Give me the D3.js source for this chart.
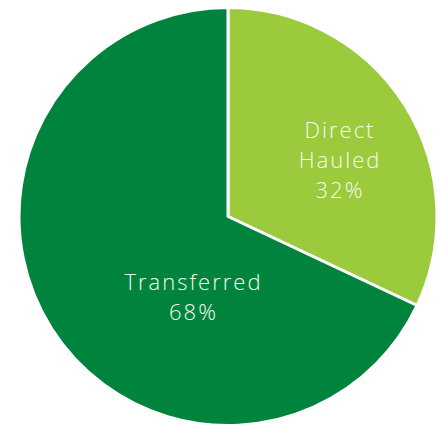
<!DOCTYPE html>
<html>
<head>
<meta charset="utf-8">
<script src="https://cdn.jsdelivr.net/npm/d3@7"></script>
<style>
  body { margin: 0; background: #fff; }
  text { font-family: "Open Sans", "Liberation Sans", sans-serif; font-weight: 300; }
</style>
</head>
<body>
<div id="container"></div>
<script>
/* DATA */
const categories = ["Direct Hauled", "Transferred"];
const shares = [32, 68];
const labelLines = [["Direct", "Hauled", "32%"], ["Transferred", "68%"]];

/* CONSTANTS */
const width = 438;
const height = 427;
const cx = 228, cy = 216.5, radius = 209;
// label block centres, relative to the pie centre (placed like the original)
const labelPos = [[112, -56], [-34.5, 80.5]];
const lineHeight = 30;

const color = d3.scaleOrdinal()
  .domain(categories)
  .range(["#9bca3c", "#00843d"]);

const data = categories.map((c, i) => ({ name: c, value: shares[i], lines: labelLines[i] }));

const pie = d3.pie().sort(null).value(d => d.value);
const arc = d3.arc().innerRadius(0).outerRadius(radius);

const svg = d3.select("#container")
  .append("svg")
  .attr("width", width)
  .attr("height", height);

const g = svg.append("g").attr("transform", `translate(${cx}, ${cy})`);

g.selectAll(".slice")
  .data(pie(data))
  .join("path")
  .attr("class", "slice")
  .attr("d", arc)
  .attr("fill", d => color(d.data.name))
  .attr("stroke", "#fff")
  .attr("stroke-width", 3)
  .attr("stroke-linejoin", "round");

// labels
const labels = g.selectAll(".label")
  .data(pie(data))
  .join("text")
  .attr("class", "label")
  .attr("text-anchor", "middle")
  .attr("fill", "#f6f9f2")
  .style("font-size", "22px")
  .style("letter-spacing", "2px")
  .attr("transform", (d, i) => `translate(${labelPos[i][0]}, ${labelPos[i][1]})`);

labels.selectAll("tspan")
  .data(d => d.data.lines.map((t, j, arr) => ({ t, j, n: arr.length })))
  .join("tspan")
  .attr("x", 0)
  .attr("y", d => (d.j - (d.n - 1) / 2) * lineHeight)
  .attr("dy", "0.36em")
  .text(d => d.t);
</script>
</body>
</html>
